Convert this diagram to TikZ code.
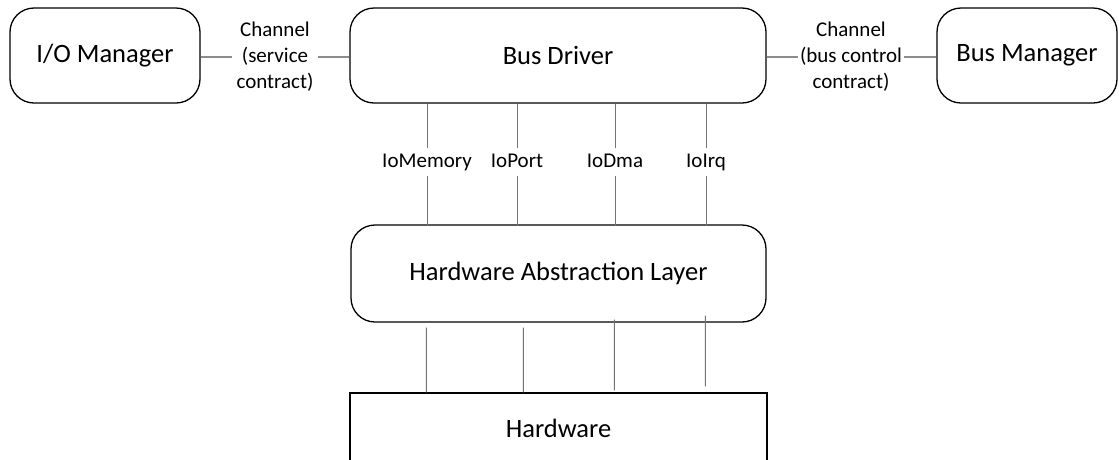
\documentclass[tikz,border=0pt]{standalone}
\usepackage{fontspec}
\setmainfont{Carlito}
\usetikzlibrary{calc}
\begin{document}
\begin{tikzpicture}[x=1pt,y=-1pt,
  box/.style={draw=black,line width=1.3pt,rounded corners=24pt,inner sep=0pt,font=\fontsize{26.5}{30}\selectfont},
  lbl/.style={inner sep=0pt,minimum height=27pt,text height=13pt,text depth=3pt,font=\fontsize{21}{25}\selectfont},
  chan/.style={align=center,inner ysep=0pt,font=\fontsize{21}{26}\selectfont},
  con/.style={draw=black!55,line width=1pt},
  ccon/.style={draw=black!45,line width=1.4pt}]
\useasboundingbox (0,0) rectangle (1119,459);
\clip (0,0) rectangle (1119,459);
\node[box,minimum width=190pt,minimum height=95pt] (io) at (105,55.5) {I/O Manager};
\node[box,minimum width=416pt,minimum height=95pt] (bd) at (558,55.5) {Bus Driver};
\node[box,minimum width=180pt,minimum height=95pt] (bm) at (1027,55.5) {Bus Manager};
\node[box,minimum width=415pt,minimum height=97pt] (hal) at (558.5,273.5) {Hardware Abstraction Layer};
\node[box,line width=1.1pt,rounded corners=0pt,minimum width=417pt,minimum height=87pt] (hw) at (558.5,436.5) {};
\node[font=\fontsize{26.5}{30}\selectfont] (hwt) at (558.5,428) {Hardware};
\node[chan,inner xsep=4pt] (ch1) at (275,57) {Channel\\(service\\contract)};
\node[chan,inner xsep=2pt] (ch2) at (851,57) {Channel\\(bus control\\contract)};
\draw[ccon] (io.east |- ch1.west) -- (ch1.west);
\draw[ccon] (ch1.east) -- (bd.west |- ch1.east);
\draw[ccon] (bd.east |- ch2.west) -- (ch2.west);
\draw[ccon] (ch2.east) -- (bm.west |- ch2.east);
\node[lbl] (m1) at (427,162) {IoMemory};
\node[lbl] (m2) at (517,162) {IoPort};
\node[lbl] (m3) at (615,162) {IoDma};
\node[lbl] (m4) at (706,162) {IoIrq};
\foreach \n in {m1,m2,m3,m4}{
  \draw[con] (\n.north |- bd.south) -- (\n.north);
  \draw[con] (\n.south) -- ([yshift=-2pt]\n.south |- hal.north);
}
\draw[con] ($(hal.south west)+(76,5)$) -- ($(hw.north west)+(77,0)$);
\draw[con] ($(hal.south west)+(173,5)$) -- ($(hw.north west)+(174,0)$);
\draw[con] ($(hal.south west)+(264,-3)$) -- ($(hw.north west)+(265,-2)$);
\draw[con] ($(hal.south west)+(355,-7)$) -- ($(hw.north west)+(356,-6)$);
\end{tikzpicture}
\end{document}
